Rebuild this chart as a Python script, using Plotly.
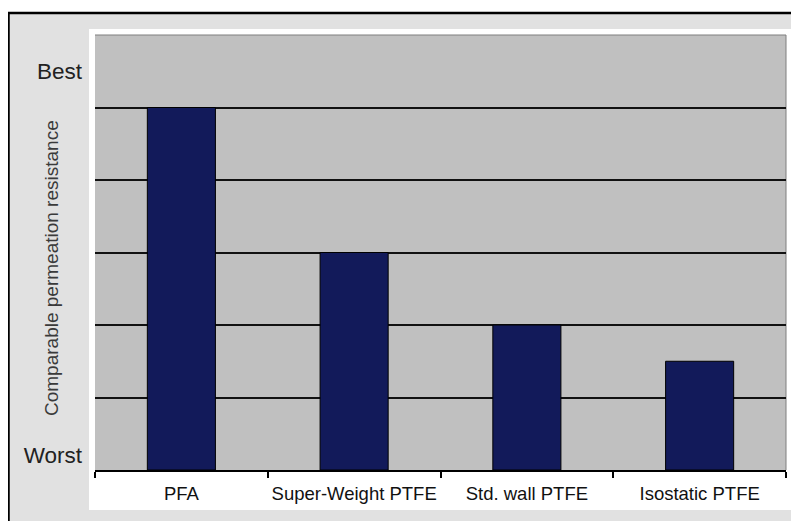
import plotly.graph_objects as go

categories = ["PFA", "Super-Weight PTFE", "Std. wall PTFE", "Isostatic PTFE"]
resistance = [5, 3, 2, 1.5]
y_tick_vals = [0.2, 5.5]
y_tick_text = ["Worst", "Best"]
grid_vals = [1, 2, 3, 4, 5]
y_title = "Comparable permeation resistance"

FONT = "Liberation Sans, Arial, sans-serif"

fig = go.Figure(
    go.Bar(
        x=categories,
        y=resistance,
        marker=dict(color="#121a5a", line=dict(color="#000000", width=1)),
        hoverinfo="x+y",
    )
)

# plot area (screen px): x 95..786, y 35..470  (page has 8px body margin)
def px(x):
    return (x - 95) / 691.0

def py(y):
    return (470 - y) / 435.0

shapes = [
    # outer black frame (extends past right/bottom edge)
    dict(type="rect", xref="paper", yref="paper", layer="below",
         x0=px(8.5), x1=px(830), y0=py(13), y1=py(560),
         fillcolor="#e1e1e1", line=dict(color="#000000", width=2.5)),
    # white chart area
    dict(type="rect", xref="paper", yref="paper", layer="below",
         x0=px(89), x1=px(792), y0=py(510), y1=py(29),
         fillcolor="#ffffff", line=dict(width=0)),
    # gray plot area
    dict(type="rect", xref="paper", yref="paper", layer="below",
         x0=0, x1=1, y0=0, y1=1,
         fillcolor="#c0c0c0", line=dict(width=0)),
    # top and right border of plot area
    dict(type="line", xref="paper", yref="paper", layer="below",
         x0=0, x1=1, y0=1, y1=1, line=dict(color="#7f7f7f", width=1)),
    dict(type="line", xref="paper", yref="paper", layer="below",
         x0=1, x1=1, y0=0, y1=1, line=dict(color="#7f7f7f", width=1)),
]

fig.update_layout(
    width=791,
    height=513,
    margin=dict(l=87, r=13, t=27, b=51, pad=0, autoexpand=False),
    paper_bgcolor="#ffffff",
    plot_bgcolor="rgba(0,0,0,0)",
    bargap=0.606,
    showlegend=False,
    shapes=shapes,
    font=dict(family=FONT, color="#222222"),
    annotations=[
        dict(text=y_title, xref="paper", yref="paper", x=px(51), y=py(268),
             textangle=-90, showarrow=False, xanchor="center", yanchor="middle",
             font=dict(family=FONT, size=19, color="#3a3a3a")),
    ],
)

fig.update_xaxes(
    type="category",
    automargin=False,
    tickangle=0,
    showgrid=False,
    showline=True,
    linecolor="#000000",
    linewidth=1.5,
    ticks="outside",
    tickson="boundaries",
    ticklen=6,
    tickwidth=1.5,
    tickcolor="#000000",
    ticklabelstandoff=6,
    tickfont=dict(family=FONT, size=18.5, color="#111111"),
    zeroline=False,
)

fig.update_yaxes(
    automargin=False,
    range=[0, 6],
    tickmode="array",
    tickvals=y_tick_vals,
    ticktext=y_tick_text,
    ticks="",
    ticklabelstandoff=12,
    showgrid=False,
    showline=False,
    zeroline=False,
    tickfont=dict(family=FONT, size=22.5, color="#222222"),
    minor=dict(tickmode="array", tickvals=grid_vals, showgrid=True,
               gridcolor="#111111", gridwidth=1.5, ticks=""),
)

fig.write_html("out.html")
